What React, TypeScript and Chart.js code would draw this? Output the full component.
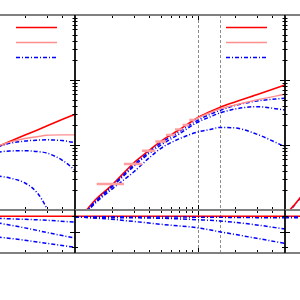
import React, { useEffect, useRef } from "react";
import { Chart, registerables } from "chart.js";

Chart.register(...registerables);

// ---- axis ranges ----
const X_MIN = 10;
const X_MAX = 510;
const Y_MIN = 1;
const Y_MAX = 1000;
const R_MIN = -0.18;
const R_MAX = 1.2;

// ---- tick values ----
const xMajorTicks = [10, 100];
const xMinorTicks = [20, 30, 40, 50, 60, 70, 80, 90, 200, 300, 400, 500];
const yMajorTicks = [1, 10, 100, 1000];
const yMinorTicks = [2, 3, 4, 5, 6, 7, 8, 9, 20, 30, 40, 50, 60, 70, 80, 90, 200, 300, 400, 500, 600, 700, 800, 900];
const rMajorTicks = [0.5];
const rMinorTicks = [0, 1];
const cutValues = [100, 150];

// ---- left panel (main) ----
const leftX = [120, 150, 200, 250, 300, 400, 510];
const leftRed = [9.42, 11.3, 14.2, 16.9, 19.6, 24.6, 29.7];
const leftPink = [9.64, 11.1, 12.6, 13.4, 14.1, 14.3, 14.3];
const leftBlueA = [9.42, 10.6, 11.5, 11.85, 12.0, 11.7, 10.85];
const leftBlueB = [7.8, 8.09, 8.15, 7.94, 7.53, 5.87, 4.12];
const leftBlueC = [3.33, 3.11, 2.6, 1.86, 1.07, 0.3, null];

// ---- left panel (ratio) ----
const leftRatioX = [120, 200, 300, 510];
const leftRatioRed = [1, 1, 1, 1];
const leftRatioA = [0.932, 0.9, 0.872, 0.808];
const leftRatioB = [0.786, 0.626, 0.48, 0.298];
const leftRatioC = [0.336, 0.228, 0.132, 0.0];

// ---- middle panel (main) ----
const midX = [12, 15, 20, 30, 40, 50, 70, 100, 125, 150, 200, 300, 510];
const midRed = [0.93, 1.5, 2.42, 5.29, 8.23, 11.5, 17.0, 26.5, 32.4, 37.8, 45.9, 59.2, 83.8];
const midBlue1 = [0.9, 1.42, 2.34, 4.92, 7.8, 10.7, 15.9, 24.2, 29.5, 33.9, 40.5, 47.5, 52.3];
const midBlue2 = [0.88, 1.38, 2.26, 4.67, 7.41, 10.0, 14.7, 22.6, 27.0, 31.0, 35.8, 38.9, 34.5];
const midBlue3 = [0.87, 1.33, 2.1, 3.84, 6.32, 8.9, 12.4, 15.9, 17.3, 18.6, 18.3, 14.7, 9.42];
const pinkBinEdges = [15, 25, 35, 45, 55, 65, 75, 85, 95];
const pinkBinValues = [2.51, 5.1, 8.17, 11.3, 14.3, 17.4, 20.3, 24.2];
const pinkTailX = [95, 100, 150, 200, 300, 510];
const pinkTailY = [25.0, 26.2, 35.8, 41.2, 49.2, 60.3];

// ---- middle panel (ratio) ----
const midRatioX = [10, 20, 50, 100, 150, 200, 300, 510];
const midRatioRed = [1, 1, 1, 1, 1, 1, 1, 1];
const midRatioE = [0.98, 0.98, 0.975, 0.97, 0.965, 0.96, 0.955, 0.95];
const midRatioD = [0.967, 0.955, 0.935, 0.888, 0.85, 0.802, 0.722, 0.588];
const midRatioF = [0.983, 0.9, 0.741, 0.626, 0.502, 0.416, 0.292, 0.129];

// ---- right panel ----
const rightX = [10.5, 11, 12, 14, 17];
const rightRed = [0.85, 1.0, 1.22, 1.73, 2.6];
const rightBlue = [0.83, 0.97, 1.2, 1.7, 2.55];
const rightRatioX = [10, 510];
const rightRatioRed = [1, 1];
const rightRatioE = [0.975, 0.96];
const rightRatioD = [0.95, 0.94];

// ---- styles ----
const RED = "#ff0000";
const PINK = "#ff8f8f";
const BLUE = "#0000ff";
const BLUE_DASH = [4, 2, 1, 2];

type Kind = "red" | "pink" | "blue";

function pts(xs: number[], ys: (number | null)[]) {
  return xs.map((x, i) => ({ x, y: ys[i] }));
}

function line(xs: number[], ys: (number | null)[], kind: Kind) {
  const style =
    kind === "red"
      ? { borderColor: RED, borderWidth: 1.6, borderDash: [] as number[] }
      : kind === "pink"
      ? { borderColor: PINK, borderWidth: 1.4, borderDash: [] as number[] }
      : { borderColor: BLUE, borderWidth: 1.5, borderDash: BLUE_DASH };
  return {
    data: pts(xs, ys),
    ...style,
    pointRadius: 0,
    fill: false,
    cubicInterpolationMode: "monotone" as const,
    spanGaps: false,
  };
}

function pinkBars(edges: number[], values: number[]) {
  const data: { x: number; y: number | null }[] = [];
  values.forEach((v, i) => {
    data.push({ x: edges[i], y: v });
    data.push({ x: edges[i + 1], y: v });
    data.push({ x: edges[i + 1], y: null });
  });
  return {
    data,
    borderColor: "#ff9e9e",
    borderWidth: 2.4,
    pointRadius: 0,
    fill: false,
    tension: 0,
    spanGaps: false,
  };
}

type DecorCfg = { ratio: boolean; legend: boolean; cuts: number[] };

function makeDecor(cfg: DecorCfg) {
  return {
    id: "decor",
    beforeDatasetsDraw(chart: any) {
      const { ctx, chartArea: a, scales } = chart;
      if (!cfg.cuts.length) return;
      ctx.save();
      ctx.strokeStyle = "#8c8c8c";
      ctx.lineWidth = 1;
      ctx.setLineDash([3, 2]);
      for (const v of cfg.cuts) {
        const px = Math.round(scales.x.getPixelForValue(v)) + 0.5;
        if (px < a.left || px > a.right) continue;
        ctx.beginPath();
        ctx.moveTo(px, a.top);
        ctx.lineTo(px, a.bottom);
        ctx.stroke();
      }
      ctx.restore();
    },
    afterDatasetsDraw(chart: any) {
      const { ctx, chartArea: a, scales } = chart;
      ctx.save();
      ctx.setLineDash([]);
      // x ticks (top & bottom, inward)
      ctx.strokeStyle = "#000";
      ctx.lineWidth = 1;
      const xt = [
        ...xMajorTicks.map((v) => [v, 5]),
        ...xMinorTicks.map((v) => [v, 3]),
      ];
      for (const [v, len] of xt) {
        const px = Math.round(scales.x.getPixelForValue(v)) + 0.5;
        if (px <= a.left + 1 || px >= a.right - 1) continue;
        ctx.beginPath();
        ctx.moveTo(px, a.top);
        ctx.lineTo(px, a.top + len);
        ctx.moveTo(px, a.bottom);
        ctx.lineTo(px, a.bottom - len);
        ctx.stroke();
      }
      // y ticks (left & right, inward)
      const yt = cfg.ratio
        ? [...rMajorTicks.map((v) => [v, 5]), ...rMinorTicks.map((v) => [v, 3])]
        : [...yMajorTicks.map((v) => [v, 5]), ...yMinorTicks.map((v) => [v, 2.5])];
      for (const [v, len] of yt) {
        const py = Math.round(scales.y.getPixelForValue(v)) + 0.5;
        if (py < a.top || py > a.bottom) continue;
        ctx.beginPath();
        ctx.moveTo(a.left, py);
        ctx.lineTo(a.left + len, py);
        ctx.moveTo(a.right, py);
        ctx.lineTo(a.right - len, py);
        ctx.stroke();
      }
      // frame
      ctx.strokeStyle = "#808080";
      ctx.lineWidth = 2;
      ctx.beginPath();
      ctx.moveTo(a.left, a.top);
      ctx.lineTo(a.right, a.top);
      ctx.moveTo(a.left, a.bottom);
      ctx.lineTo(a.right, a.bottom);
      ctx.stroke();
      ctx.strokeStyle = "#000";
      ctx.lineWidth = 1.3;
      ctx.beginPath();
      ctx.moveTo(a.left, a.top);
      ctx.lineTo(a.left, a.bottom);
      ctx.moveTo(a.right, a.top);
      ctx.lineTo(a.right, a.bottom);
      ctx.stroke();
      // legend sample lines
      if (cfg.legend) {
        const items = [
          { c: RED, w: 1.6, d: [] as number[] },
          { c: PINK, w: 1.3, d: [] as number[] },
          { c: BLUE, w: 1.5, d: BLUE_DASH },
        ];
        items.forEach((it, i) => {
          const y = a.top + 12.5 + i * 15;
          ctx.strokeStyle = it.c;
          ctx.lineWidth = it.w;
          ctx.setLineDash(it.d);
          ctx.beginPath();
          ctx.moveTo(a.left + 151, y);
          ctx.lineTo(a.left + 192, y);
          ctx.stroke();
        });
      }
      ctx.restore();
    },
  };
}

type Area = { l: number; t: number; r: number; b: number };
const PAD = 10;

function Panel({ area, datasets, decor }: { area: Area; datasets: any[]; decor: DecorCfg }) {
  const ref = useRef<HTMLCanvasElement>(null);
  const w = area.r - area.l + 2 * PAD;
  const h = area.b - area.t + 2 * PAD;
  useEffect(() => {
    const chart = new Chart(ref.current as HTMLCanvasElement, {
      type: "line",
      data: { datasets },
      options: {
        responsive: false,
        animation: false,
        devicePixelRatio: 1,
        layout: { padding: PAD },
        events: [],
        plugins: { legend: { display: false }, tooltip: { enabled: false }, title: { display: false } },
        scales: {
          x: { type: "logarithmic", min: X_MIN, max: X_MAX, display: false },
          y: decor.ratio
            ? { type: "linear", min: R_MIN, max: R_MAX, display: false }
            : { type: "logarithmic", min: Y_MIN, max: Y_MAX, display: false },
        },
      } as any,
      plugins: [makeDecor(decor) as any],
    });
    return () => chart.destroy();
  }, []);
  return (
    <canvas
      ref={ref}
      width={w}
      height={h}
      style={{ position: "absolute", left: area.l - PAD, top: area.t - PAD, width: w, height: h }}
    />
  );
}

const MAIN_T = 15;
const MAIN_B = 210;
const RATIO_B = 253;

export default function App() {
  const cols = [-135, 75, 285];
  const left = (c: number) => ({ l: c, r: c + 210 });

  const leftMain = [
    line(leftX, leftPink, "pink"),
    line(leftX, leftBlueC, "blue"),
    line(leftX, leftBlueB, "blue"),
    line(leftX, leftBlueA, "blue"),
    line(leftX, leftRed, "red"),
  ];
  const leftRatio = [
    line(leftRatioX, leftRatioC, "blue"),
    line(leftRatioX, leftRatioB, "blue"),
    line(leftRatioX, leftRatioA, "blue"),
    line(leftRatioX, leftRatioRed, "red"),
  ];
  const midMain = [
    pinkBars(pinkBinEdges, pinkBinValues),
    line(pinkTailX, pinkTailY, "pink"),
    line(midX, midBlue3, "blue"),
    line(midX, midBlue2, "blue"),
    line(midX, midBlue1, "blue"),
    line(midX, midRed, "red"),
  ];
  const midRatio = [
    line(midRatioX, midRatioF, "blue"),
    line(midRatioX, midRatioD, "blue"),
    line(midRatioX, midRatioE, "blue"),
    line(midRatioX, midRatioRed, "red"),
  ];
  const rightMain = [line(rightX, rightRed, "red"), line(rightX, rightBlue, "blue")];
  const rightRatio = [
    line(rightRatioX, rightRatioD, "blue"),
    line(rightRatioX, rightRatioE, "blue"),
    line(rightRatioX, rightRatioRed, "red"),
  ];

  return (
    <div
      style={{
        position: "absolute",
        left: 0,
        top: 0,
        width: 300,
        height: 300,
        overflow: "hidden",
        background: "#ffffff",
      }}
    >
      <Panel area={{ ...left(cols[0]), t: MAIN_T, b: MAIN_B }} datasets={leftMain} decor={{ ratio: false, legend: true, cuts: [] }} />
      <Panel area={{ ...left(cols[0]), t: MAIN_B, b: RATIO_B }} datasets={leftRatio} decor={{ ratio: true, legend: false, cuts: [] }} />
      <Panel area={{ ...left(cols[1]), t: MAIN_T, b: MAIN_B }} datasets={midMain} decor={{ ratio: false, legend: true, cuts: cutValues }} />
      <Panel area={{ ...left(cols[1]), t: MAIN_B, b: RATIO_B }} datasets={midRatio} decor={{ ratio: true, legend: false, cuts: cutValues }} />
      <Panel area={{ ...left(cols[2]), t: MAIN_T, b: MAIN_B }} datasets={rightMain} decor={{ ratio: false, legend: true, cuts: [] }} />
      <Panel area={{ ...left(cols[2]), t: MAIN_B, b: RATIO_B }} datasets={rightRatio} decor={{ ratio: true, legend: false, cuts: [] }} />
    </div>
  );
}
